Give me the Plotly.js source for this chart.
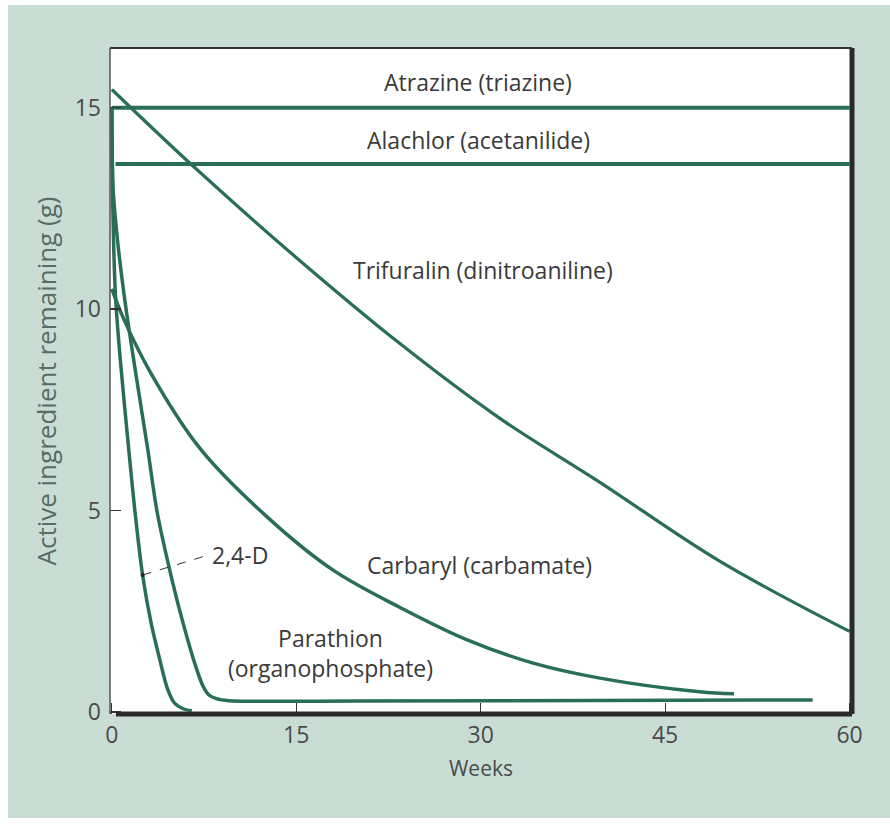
<!DOCTYPE html>
<html><head><meta charset="utf-8">
<script src="https://cdn.plot.ly/plotly-3.0.1.min.js"></script>
<style>html,body{margin:0;padding:0;background:#fff}</style>
</head><body><div id="chart" style="width:890px;height:826px"></div>
<script>
// Weeks / grams of active ingredient remaining
const atrazineWeeks = [0, 60];
const atrazineG     = [15, 15];
const alachlorWeeks = [0.3, 60];
const alachlorG     = [13.6, 13.6];
const trifluralinWeeks = [0, 6.6, 15.3, 23.4, 31.5, 39.7, 49.4, 60];
const trifluralinG     = [15.45, 13.55, 11.2, 9.15, 7.3, 5.7, 3.75, 2.0];
const carbarylWeeks = [0, 0.9, 3.1, 7.15, 12.6, 18, 23.4, 28.9, 34.2, 39.7, 47.8, 50.6];
const carbarylG     = [10.5, 9.8, 8.45, 6.55, 4.85, 3.52, 2.6, 1.79, 1.22, 0.84, 0.5, 0.45];
const parathionWeeks = [0, 0.1, 0.5, 1.2, 2.0, 2.93, 3.66, 4.88, 5.8, 6.75, 7.4, 7.9, 8.5, 9.5, 20, 57];
const parathionG     = [15, 13, 11.6, 9.9, 8.3, 6.5, 5.0, 3.3, 2.2, 1.2, 0.65, 0.42, 0.33, 0.28, 0.27, 0.3];
const d24Weeks = [0, 0.08, 0.3, 0.7, 1.38, 1.87, 2.5, 3.2, 3.9, 4.5, 5.1, 5.8, 6.5];
const d24G     = [15, 12.5, 10.3, 8.7, 6.5, 5.0, 3.4, 2.2, 1.3, 0.6, 0.22, 0.08, 0.03];
const xTicks = [0, 15, 30, 45, 60];
const yTicks = [0, 5, 10, 15];

const lineColor = '#296e58';
const font = '"Open Sans", Lato, sans-serif';
function tr(x, y, w, smooth) {
  return {x: x, y: y, type: 'scatter', mode: 'lines',
          line: {color: lineColor, width: w, shape: smooth ? 'spline' : 'linear', smoothing: smooth || 0},
          hoverinfo: 'skip', showlegend: false};
}
const data = [
  tr(atrazineWeeks, atrazineG, 4),
  tr(alachlorWeeks, alachlorG, 4),
  tr(trifluralinWeeks, trifluralinG, 3.2, 1),
  tr(carbarylWeeks, carbarylG, 3.5, 1),
  tr(parathionWeeks, parathionG, 3.5, 0.7),
  tr(d24Weeks, d24G, 3.5, 0.8)
];
const txt = '#3a3a3a';
const layout = {
  width: 890, height: 826,
  margin: {l: 110, r: 38, t: 48, b: 112},
  paper_bgcolor: '#ffffff',
  plot_bgcolor: '#ffffff',
  font: {family: font, color: txt, size: 20},
  xaxis: {
    range: [-0.15, 60.2], tickvals: xTicks, ticktext: xTicks.map(String),
    ticks: 'inside', ticklen: 11, tickcolor: '#333', tickwidth: 1.2,
    showgrid: false, zeroline: false, showline: false,
    tickfont: {size: 23, color: '#4a4a4a', family: font},
    ticklabelstandoff: 5,
    title: {text: 'Weeks', font: {size: 21, color: '#4a4a4a', family: font}, standoff: 12}
  },
  yaxis: {
    range: [-0.05, 16.48], tickvals: yTicks, ticktext: yTicks.map(String),
    ticks: 'inside', ticklen: 11, tickcolor: '#333', tickwidth: 1.2,
    showgrid: false, zeroline: false, showline: false,
    tickfont: {size: 23, color: '#4a4a4a', family: font},
    ticklabelstandoff: 8,
    title: {text: 'Active ingredient remaining (g)', font: {size: 26, color: '#5a6a66', family: font}, standoff: 10}
  },
  shapes: [
    {type: 'rect', xref: 'paper', yref: 'paper', x0: -102/742, x1: 1 + 38/742, y0: -104/666, y1: 1 + 43/666,
     fillcolor: '#c9ddd5', line: {width: 0}, layer: 'below'},
    {type: 'rect', xref: 'paper', yref: 'paper', x0: 0, x1: 1, y0: 0, y1: 1,
     fillcolor: '#ffffff', line: {width: 0}, layer: 'below'},
    {type: 'line', xref: 'paper', yref: 'paper', x0: 0, x1: 0, y0: 0, y1: 1, line: {color: '#555', width: 1.5}},
    {type: 'line', xref: 'paper', yref: 'paper', x0: 0, x1: 1, y0: 1, y1: 1, line: {color: '#333', width: 2}},
    {type: 'line', xref: 'paper', yref: 'paper', x0: 1, x1: 1, y0: 0, y1: 1, line: {color: '#2a2a2a', width: 5}},
    {type: 'line', xref: 'paper', yref: 'paper', x0: 0.008, x1: 1, y0: 0, y1: 0, line: {color: '#2a2a2a', width: 5}},
    {type: 'line', xref: 'x', yref: 'y', x0: 2.5, y0: 3.4, x1: 7.9, y1: 3.9, line: {color: '#333', width: 1, dash: 'dash'}},
    {type: 'circle', xref: 'x', yref: 'y', xsizemode: 'pixel', ysizemode: 'pixel', xanchor: 2.5, yanchor: 3.4,
     x0: -2, x1: 2, y0: -2, y1: 2, fillcolor: '#222', line: {width: 0}}
  ],
  annotations: [
    {x: 29.8, y: 15.63, text: 'Atrazine (triazine)'},
    {x: 29.8, y: 14.19, text: 'Alachlor (acetanilide)'},
    {x: 30.2, y: 10.97, text: 'Trifuralin (dinitroaniline)'},
    {x: 29.9, y: 3.65, text: 'Carbaryl (carbamate)'},
    {x: 17.8, y: 1.47, text: 'Parathion<br>(organophosphate)'},
    {x: 8.0, y: 3.9, text: '2,4-D', xanchor: 'left'}
  ].map(a => Object.assign({xref: 'x', yref: 'y', showarrow: false, xanchor: 'center', yanchor: 'middle',
                              font: {size: 23, color: txt, family: font}}, a))
};
Plotly.newPlot('chart', data, layout, {displayModeBar: false, staticPlot: true});
</script></body></html>
